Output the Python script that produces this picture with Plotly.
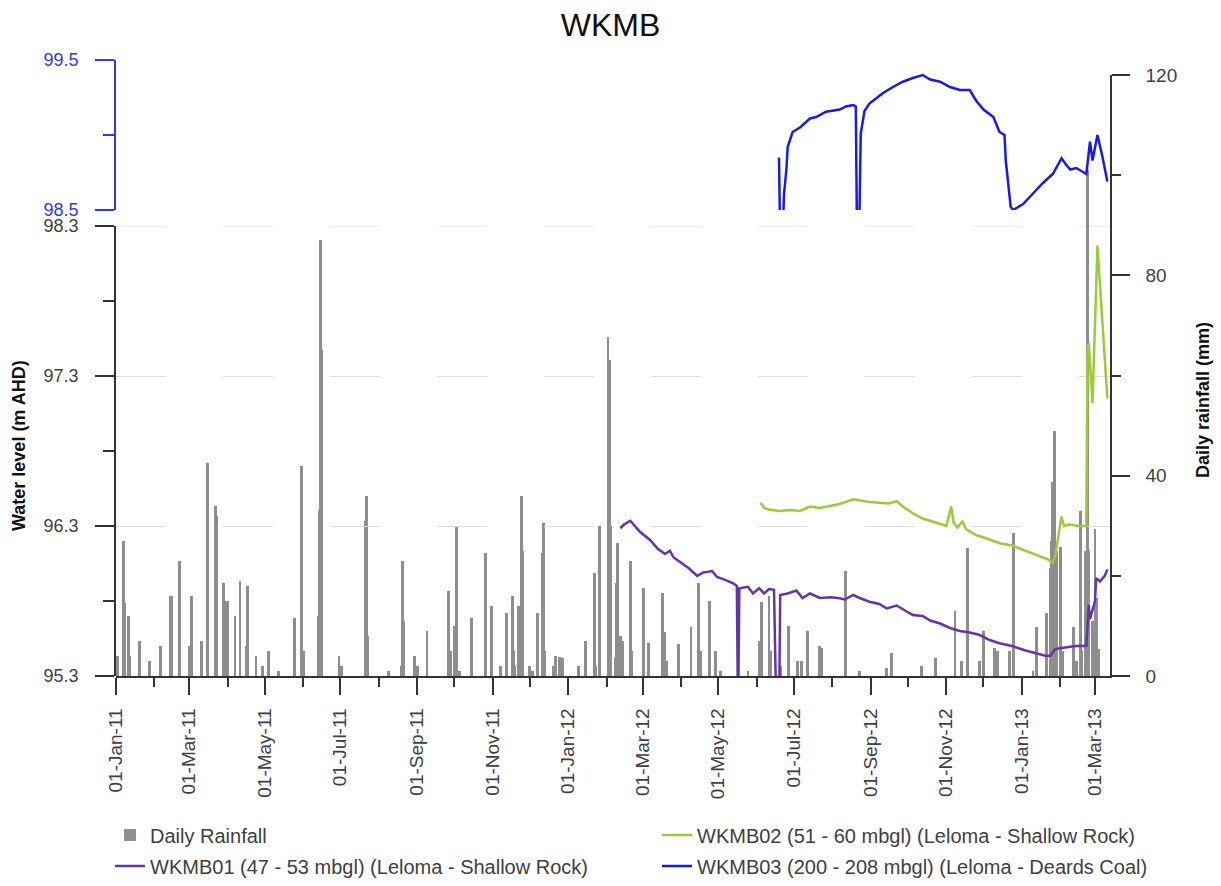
import plotly.graph_objects as go

# ---------------- data ----------------
rain_dates = [
    "2011-01-02", "2011-01-07", "2011-01-08", "2011-01-11", "2011-01-12", "2011-01-20", "2011-01-28",
    "2011-02-06", "2011-02-14", "2011-02-15", "2011-02-21", "2011-03-01", "2011-03-03", "2011-03-11",
    "2011-03-16", "2011-03-22", "2011-03-23", "2011-03-29", "2011-03-31", "2011-04-01", "2011-04-07",
    "2011-04-11", "2011-04-16", "2011-04-17", "2011-04-24", "2011-04-29", "2011-05-04", "2011-05-12",
    "2011-05-25", "2011-05-31", "2011-06-01", "2011-06-13", "2011-06-14", "2011-06-15", "2011-06-16",
    "2011-06-30", "2011-07-02", "2011-07-21", "2011-07-22", "2011-07-23", "2011-08-09", "2011-08-19",
    "2011-08-20", "2011-08-21", "2011-08-30", "2011-09-01", "2011-09-09", "2011-09-26", "2011-09-27",
    "2011-09-28", "2011-10-01", "2011-10-03", "2011-10-05", "2011-10-15", "2011-10-26", "2011-10-31",
    "2011-11-07", "2011-11-12", "2011-11-17", "2011-11-18", "2011-11-19", "2011-11-22", "2011-11-24",
    "2011-11-25", "2011-12-01", "2011-12-03", "2011-12-07", "2011-12-11", "2011-12-12", "2011-12-13",
    "2011-12-20", "2011-12-22", "2011-12-25", "2011-12-27",
    "2012-01-09", "2012-01-15", "2012-01-22", "2012-01-23", "2012-01-26", "2012-02-02", "2012-02-03",
    "2012-02-04", "2012-02-08", "2012-02-09", "2012-02-10", "2012-02-12", "2012-02-14", "2012-02-20",
    "2012-02-21", "2012-03-02", "2012-03-06", "2012-03-17", "2012-03-19", "2012-03-20", "2012-03-30",
    "2012-04-09", "2012-04-15", "2012-04-17", "2012-04-24", "2012-04-29", "2012-05-03", "2012-05-25",
    "2012-06-03", "2012-06-05", "2012-06-11", "2012-06-12", "2012-06-20", "2012-06-27", "2012-07-04",
    "2012-07-07", "2012-07-12", "2012-07-22", "2012-07-23", "2012-08-12", "2012-08-23", "2012-09-14",
    "2012-09-18", "2012-10-12", "2012-10-23", "2012-11-08", "2012-11-13", "2012-11-18", "2012-11-28",
    "2012-12-01", "2012-12-10", "2012-12-12", "2012-12-22", "2012-12-25",
    "2013-01-10", "2013-01-13", "2013-01-21", "2013-01-24", "2013-01-25", "2013-01-26", "2013-01-27",
    "2013-01-29", "2013-02-01", "2013-02-03", "2013-02-12", "2013-02-14", "2013-02-17", "2013-02-18",
    "2013-02-21", "2013-02-23", "2013-02-24", "2013-02-27", "2013-03-01", "2013-03-02", "2013-03-04",
]
rain_mm = [
    4, 27, 14.6, 12, 4, 7, 3,
    6, 16, 16, 23, 6, 16, 7,
    42.6, 34, 32, 18.6, 15, 15, 12,
    19, 6, 18, 4, 2, 5, 1,
    11.6, 42, 5, 12, 33, 87, 65,
    4, 2, 31, 36, 8, 1, 2,
    23, 11, 4, 2, 9, 17, 5,
    5, 10, 30, 1, 11.6, 24.6, 14,
    2, 12.6, 16, 5, 2, 14, 36,
    25, 2, 1, 12.6, 24.6, 30.6, 5,
    2, 4, 3.7, 3.5,
    2, 7, 20.6, 2, 30, 67.6, 63,
    30, 3.6, 18.6, 26.6, 8, 7, 23,
    5, 17.6, 6.6, 16.6, 8.7, 3, 6.3,
    9.8, 18.6, 5, 15, 5, 1, 1,
    7, 14.8, 16, 5, 2, 10, 3,
    3, 9, 6, 5.5, 21, 1, 1.5,
    4.5, 2, 3.6, 13, 3, 25.6, 3,
    9, 5.5, 5, 5, 28.6,
    1, 9.8, 12.6, 21.6, 27, 38.8, 49,
    25, 25.7, 5, 9.8, 3, 33, 5,
    25, 101, 25, 11, 29.4, 15.5, 5.4,
]

wkmb01_dates = [
    "2012-02-12", "2012-02-15", "2012-02-20", "2012-02-24", "2012-02-28", "2012-03-07", "2012-03-13",
    "2012-03-19", "2012-03-23", "2012-03-26", "2012-03-31", "2012-04-07", "2012-04-14", "2012-04-19",
    "2012-04-26", "2012-04-30", "2012-05-06", "2012-05-13", "2012-05-16", "2012-05-17", "2012-05-18",
    "2012-05-25", "2012-05-29", "2012-06-03", "2012-06-07", "2012-06-11", "2012-06-15", "2012-06-17",
    "2012-06-19", "2012-06-20", "2012-06-26", "2012-07-03", "2012-07-08", "2012-07-14", "2012-07-22",
    "2012-07-31", "2012-08-07", "2012-08-11", "2012-08-18", "2012-08-23", "2012-08-31", "2012-09-08",
    "2012-09-14", "2012-09-22", "2012-09-30", "2012-10-05", "2012-10-13", "2012-10-19", "2012-10-27",
    "2012-11-04", "2012-11-12", "2012-11-20", "2012-11-28", "2012-12-06", "2012-12-14", "2012-12-24",
    "2013-01-04", "2013-01-12", "2013-01-20", "2013-01-24", "2013-01-28", "2013-02-05", "2013-02-13",
    "2013-02-22", "2013-02-24", "2013-02-25", "2013-03-01", "2013-03-02", "2013-03-05", "2013-03-09",
    "2013-03-11",
]
wkmb01_level = [
    96.285, 96.31, 96.335, 96.30, 96.26, 96.207, 96.15,
    96.113, 96.135, 96.09, 96.06, 96.02, 95.967, 95.99,
    96.0, 95.96, 95.943, 95.918, 95.90, 95.0, 95.885,
    95.895, 95.85, 95.885, 95.85, 95.88, 95.875, 95.0,
    95.0, 95.84, 95.85, 95.87, 95.82, 95.85, 95.82,
    95.825, 95.818, 95.81, 95.84, 95.82, 95.795, 95.78,
    95.75, 95.77, 95.73, 95.707, 95.70, 95.67, 95.65,
    95.62, 95.60, 95.59, 95.573, 95.54, 95.518, 95.50,
    95.47, 95.45, 95.435, 95.435, 95.48, 95.49, 95.50,
    95.50, 95.773, 95.68, 95.80, 95.953, 95.93, 95.97,
    96.01,
]

wkmb02_dates = [
    "2012-06-04", "2012-06-07", "2012-06-11", "2012-06-19", "2012-06-28", "2012-07-06", "2012-07-14",
    "2012-07-22", "2012-07-31", "2012-08-07", "2012-08-18", "2012-08-23", "2012-08-31", "2012-09-08",
    "2012-09-16", "2012-09-22", "2012-09-27", "2012-10-05", "2012-10-13", "2012-10-21", "2012-10-29",
    "2012-11-01", "2012-11-05", "2012-11-07", "2012-11-10", "2012-11-14", "2012-11-17", "2012-11-25",
    "2012-12-06", "2012-12-14", "2012-12-24", "2013-01-04", "2013-01-15", "2013-01-22", "2013-01-26",
    "2013-01-28", "2013-01-31", "2013-02-02", "2013-02-04", "2013-02-08", "2013-02-16", "2013-02-22",
    "2013-02-23", "2013-02-24", "2013-02-27", "2013-03-03", "2013-03-11",
]
wkmb02_level = [
    96.455, 96.42, 96.41, 96.40, 96.407, 96.40, 96.43,
    96.42, 96.435, 96.447, 96.478, 96.47, 96.46, 96.455,
    96.45, 96.465, 96.43, 96.385, 96.35, 96.33, 96.31,
    96.30, 96.43, 96.32, 96.29, 96.33, 96.28, 96.24,
    96.21, 96.185, 96.17, 96.133, 96.10, 96.077, 96.055,
    96.10, 96.262, 96.363, 96.30, 96.31, 96.30, 96.30,
    97.485, 97.52, 97.12, 98.17, 97.15,
]

wkmb03_dates = [
    "2012-06-19", "2012-06-20", "2012-06-22", "2012-06-23", "2012-06-25", "2012-06-26", "2012-06-30",
    "2012-07-06", "2012-07-14", "2012-07-19", "2012-07-27", "2012-08-07", "2012-08-12", "2012-08-18",
    "2012-08-20", "2012-08-21", "2012-08-22", "2012-08-23", "2012-08-24", "2012-08-27", "2012-08-31",
    "2012-09-06", "2012-09-11", "2012-09-19", "2012-09-27", "2012-10-05", "2012-10-13", "2012-10-19",
    "2012-10-27", "2012-11-04", "2012-11-12", "2012-11-20", "2012-11-25", "2012-12-01", "2012-12-09",
    "2012-12-14", "2012-12-18", "2012-12-19", "2012-12-23", "2012-12-25", "2013-01-02", "2013-01-10",
    "2013-01-18", "2013-01-26", "2013-02-02", "2013-02-05", "2013-02-09", "2013-02-14", "2013-02-22",
    "2013-02-25", "2013-02-27", "2013-03-03", "2013-03-07", "2013-03-11",
]
wkmb03_level = [
    98.85, 98.3, 98.3, 98.6, 98.77, 98.92, 99.02,
    99.05, 99.11, 99.12, 99.155, 99.17, 99.19, 99.20,
    99.19, 98.3, 98.3, 98.5, 99.01, 99.16, 99.21,
    99.25, 99.28, 99.32, 99.355, 99.38, 99.40, 99.37,
    99.355, 99.32, 99.30, 99.30, 99.23, 99.17, 99.12,
    99.02, 99.0, 98.83, 98.52, 98.5, 98.54, 98.61,
    98.68, 98.74, 98.845, 98.81, 98.77, 98.78, 98.74,
    98.955, 98.83, 99.0, 98.857, 98.69,
]

lower_ticks = [95.3, 96.3, 97.3, 98.3]
upper_ticks = [98.5, 99.5]
rain_ticks = [0, 40, 80, 120]

# ---------------- styles ----------------
FONT = "Liberation Sans, Arial, sans-serif"
GRAY_TXT = "#404040"
AX = "#333333"
PURPLE = "#6236a5"
GREEN = "#9acb3a"
BLUE = "#1a1ae6"
BLUE_AX = "#3535ee"
GRID = "#dcdcdc"
GRID_DASH = "50px,57px"
DAY_MS = 86400000

fig = go.Figure()
fig.add_trace(go.Bar(
    x=rain_dates, y=rain_mm, name="Daily Rainfall", xaxis="x", yaxis="y",
    width=2.3 * DAY_MS,
    marker=dict(color="#8e8e8e", line=dict(width=0)),
    legend="legend", showlegend=True,
))
fig.add_trace(go.Scatter(
    x=wkmb01_dates, y=wkmb01_level, mode="lines", xaxis="x", yaxis="y2",
    name="WKMB01 (47 - 53 mbgl) (Leloma - Shallow Rock)",
    line=dict(color=PURPLE, width=2.5), legend="legend2", showlegend=True,
))
fig.add_trace(go.Scatter(
    x=wkmb02_dates, y=wkmb02_level, mode="lines", xaxis="x", yaxis="y2",
    name="WKMB02 (51 - 60 mbgl) (Leloma - Shallow Rock)",
    line=dict(color=GREEN, width=2.5), legend="legend3", showlegend=True,
))
fig.add_trace(go.Scatter(
    x=wkmb03_dates, y=wkmb03_level, mode="lines", xaxis="x", yaxis="y3",
    name="WKMB03 (200 - 208 mbgl) (Leloma - Deards Coal)",
    line=dict(color=BLUE, width=2.5), legend="legend4", showlegend=True,
))

tickfont = dict(family=FONT, size=19, color=GRAY_TXT)
ytickfont = dict(family=FONT, size=18, color=GRAY_TXT)
legfont = dict(family=FONT, size=20, color=GRAY_TXT)

ROW1 = (676 - 835) / 616
ROW2 = (676 - 866) / 616
COL1 = -0.006
COL2 = (657 - 116) / 994


def leg(x, y):
    return dict(x=x, y=y, xanchor="left", yanchor="middle", font=legfont,
                bgcolor="rgba(0,0,0,0)", borderwidth=0, visible=True)


fig.update_layout(
    width=1221, height=886,
    margin=dict(l=116, r=111, t=60, b=210, autoexpand=False),
    paper_bgcolor="white", plot_bgcolor="rgba(0,0,0,0)",
    showlegend=True,
    font=dict(family=FONT, color=GRAY_TXT),
    bargap=0,
    title=dict(text="WKMB", x=0.5, xref="container", y=1 - 25 / 886, yref="container",
               xanchor="center", yanchor="middle",
               font=dict(family=FONT, size=32, color="#111111")),
    xaxis=dict(
        type="date", range=["2011-01-01", "2013-03-13 03:00"], anchor="y",
        tickformat="%d-%b-%y", tickangle=-90, dtick="M2", tick0="2011-01-01",
        ticks="outside", ticklen=17, tickwidth=1.5, tickcolor=AX,
        minor=dict(dtick="M1", ticks="outside", ticklen=9, tickwidth=1.5, tickcolor=AX),
        showline=True, linecolor=AX, linewidth=1.5, showgrid=False, zeroline=False,
        tickfont=tickfont, ticklabelstandoff=6,
    ),
    yaxis=dict(
        domain=[0, 601 / 616], range=[0, 120], side="right", anchor="x",
        tickvals=rain_ticks, ticks="outside", ticklen=18, tickwidth=1.5, tickcolor=AX,
        minor=dict(dtick=20, ticks="outside", ticklen=9, tickwidth=1.5, tickcolor=AX),
        showline=True, linecolor=AX, linewidth=1.5, showgrid=False, zeroline=False,
        tickfont=tickfont, ticklabelstandoff=12,
    ),
    yaxis2=dict(
        domain=[0, 450 / 616], range=[95.3, 98.3], side="left", anchor="x",
        tickvals=lower_ticks, tickformat=".1f",
        ticks="outside", ticklen=19, tickwidth=1.5, tickcolor=AX,
        minor=dict(dtick=0.5, tick0=95.3, ticks="outside", ticklen=11, tickwidth=1.5, tickcolor=AX),
        showline=True, linecolor=AX, linewidth=1.5, zeroline=False,
        showgrid=True, gridcolor=GRID, gridwidth=1, griddash=GRID_DASH,
        tickfont=ytickfont, ticklabelstandoff=13,
    ),
    yaxis3=dict(
        domain=[466 / 616, 1], range=[98.5, 99.5], side="left", anchor="x",
        tickvals=upper_ticks, tickformat=".1f",
        ticks="outside", ticklen=19, tickwidth=1.5, tickcolor=BLUE_AX,
        minor=dict(dtick=0.5, tick0=98.5, ticks="outside", ticklen=11, tickwidth=1.5, tickcolor=BLUE_AX),
        showline=True, linecolor=BLUE_AX, linewidth=1.5, zeroline=False, showgrid=False,
        tickfont=dict(family=FONT, size=18, color=BLUE_AX), ticklabelstandoff=13,
    ),
    legend=leg(COL1, ROW1),
    legend2=leg(COL1, ROW2),
    legend3=leg(COL2, ROW1),
    legend4=leg(COL2, ROW2),
    shapes=[
        dict(type="line", xref="paper", x0=0, x1=1, yref="y2", y0=lower_ticks[-1], y1=lower_ticks[-1],
             line=dict(color=GRID, width=1, dash=GRID_DASH), layer="below"),
    ],
    annotations=[
        dict(text="<b>Water level (m AHD)</b>", x=(19 - 116) / 994, y=(676 - 446) / 616,
             xref="paper", yref="paper", textangle=-90, showarrow=False,
             xanchor="center", yanchor="middle",
             font=dict(family=FONT, size=18, color="#111111")),
        dict(text="<b>Daily rainfall (mm)</b>", x=(1203 - 116) / 994, y=(676 - 400) / 616,
             xref="paper", yref="paper", textangle=-90, showarrow=False,
             xanchor="center", yanchor="middle",
             font=dict(family=FONT, size=18, color="#111111")),
    ],
)

fig.write_html("out.html")
